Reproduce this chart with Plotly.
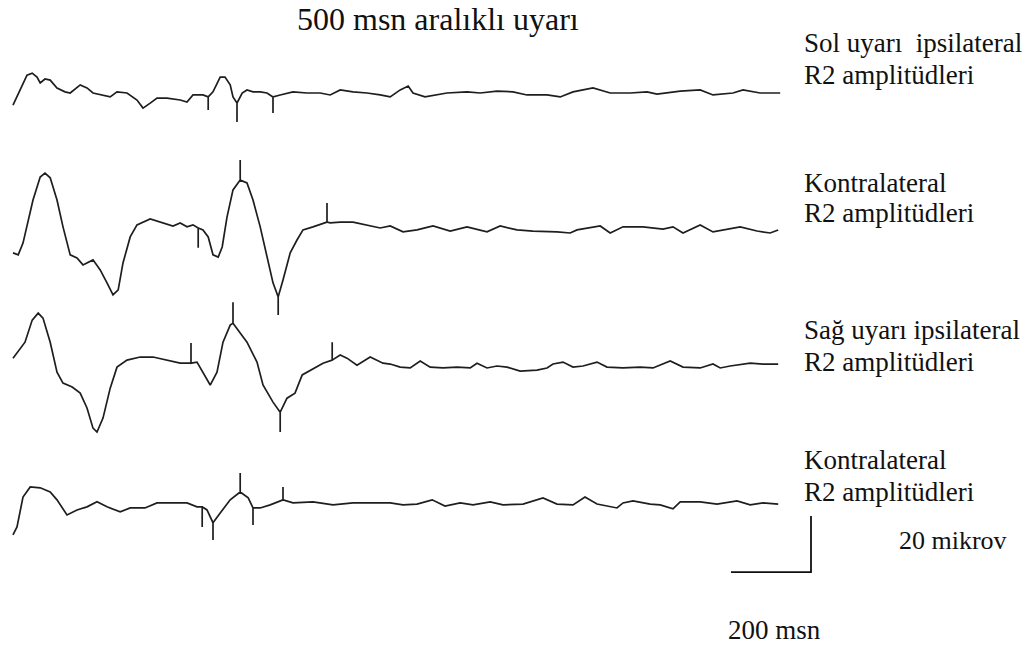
import plotly.graph_objects as go

# ---- Data: time (ms) and amplitude (µV) for each recording ----
t1 = [0, 18, 35, 48, 60, 68, 80, 93, 110, 130, 143, 168, 185, 200, 218, 243, 260, 285, 310, 325,
      343, 360, 385, 418, 435, 450, 475, 488, 488, 488, 500, 518, 530, 543, 550, 560, 560, 560,
      573, 585, 600, 618, 635, 650, 650, 650, 668, 700, 735, 768, 793, 818, 850, 885, 918, 943,
      968, 988, 1000, 1030, 1085, 1135, 1168, 1210, 1250, 1285, 1335, 1368, 1400, 1450, 1493,
      1543, 1585, 1610, 1668, 1718, 1750, 1800, 1825, 1868, 1918]
a1 = [-4.3, 1.1, 6.4, 7.1, 5.7, 3.6, 5.0, 4.6, 1.8, 0.4, 0.0, 2.9, 1.8, 0.0, -0.7, -1.4, 0.4, 0.0, -2.5, -5.4,
      -3.6, -1.8, -1.8, -2.5, -3.2, -0.7, -0.7, -1.4, -6.1, -1.4, 0.4, 5.7, 5.7, 2.9, -1.4, -3.6, -10.4, -3.6,
      0.0, 1.1, 0.4, 0.4, 0.0, -1.4, -7.1, -1.4, -0.7, 0.4, 0.0, 0.0, -0.7, 1.1, 0.4, 0.0, -0.7, -1.4,
      1.1, 2.5, 0.0, -1.4, 0.0, 0.4, 0.0, 0.7, 0.4, -0.7, -0.7, -1.4, 0.4, 1.8, 0.0,
      0.0, 0.4, -0.4, 0.7, 1.1, -0.7, 0.0, 1.1, 0.0, 0.0]

t2 = [0, 13, 25, 50, 68, 80, 93, 110, 125, 143, 160, 175, 200, 218, 235, 250, 263, 275, 293, 310,
      343, 375, 400, 418, 435, 450, 463, 463, 463, 475, 488, 500, 513, 523, 535, 550, 568, 568, 568,
      585, 600, 618, 635, 650, 663, 663, 663, 675, 693, 710, 725, 750, 785, 785, 785, 793, 818, 850,
      885, 918, 943, 975, 1010, 1050, 1093, 1135, 1185, 1218, 1260, 1300, 1360, 1393, 1410, 1468,
      1493, 1525, 1575, 1625, 1650, 1675, 1718, 1750, 1818, 1860, 1893, 1913]
a2 = [-8.9, -9.6, -5.4, 10.0, 18.2, 19.6, 17.9, 10.0, 0.4, -9.6, -10.7, -13.2, -11.4, -15.0, -19.6, -23.9, -22.1, -12.5, -3.2, 1.1,
      3.2, 1.8, 0.7, 1.8, 0.4, 1.1, 0.0, -7.1, 0.0, -0.7, -3.2, -9.6, -10.4, -6.8, 3.9, 13.6, 17.1, 24.3, 17.1,
      16.1, 10.0, 0.4, -10.4, -19.6, -24.6, -31.1, -24.6, -18.6, -8.9, -4.3, -0.7, 0.4, 2.1, 8.9, 2.1, 1.8, 2.1, 2.1,
      1.1, 0.0, 0.7, -1.4, -0.7, 0.7, -1.1, 0.4, -1.4, 0.7, -0.7, -1.1, -1.4, -1.8, -0.7, 0.7,
      -1.8, 0.4, 0.4, -0.4, 0.4, -1.8, 1.1, -1.4, 0.4, -1.1, -1.8, -0.7]

t3 = [0, 30, 48, 63, 75, 93, 110, 125, 148, 168, 185, 200, 210, 225, 243, 260, 285, 318, 350, 385,
      418, 445, 445, 445, 460, 475, 493, 510, 525, 543, 550, 550, 550, 585, 610, 625, 650, 668, 668, 668,
      685, 705, 723, 743, 775, 798, 798, 798, 818, 835, 860, 893, 925, 943, 968, 993, 1018, 1043,
      1075, 1110, 1143, 1160, 1185, 1210, 1235, 1268, 1310, 1335, 1350, 1375, 1400, 1425, 1460, 1485,
      1525, 1568, 1600, 1643, 1675, 1718, 1750, 1768, 1793, 1843, 1875, 1913]
a3 = [1.4, 7.1, 15.0, 17.5, 15.7, 7.1, -3.6, -7.5, -8.9, -11.1, -16.4, -23.6, -25.0, -20.0, -9.3, -1.8, 0.7, 1.8, 1.8, 0.7,
      -0.4, -0.4, 6.8, -0.4, 0.0, -3.9, -8.2, -3.6, 7.1, 13.2, 13.9, 21.4, 13.9, 7.1, 0.0, -8.2, -14.3, -17.9, -25.0, -17.9,
      -12.9, -11.1, -4.6, -2.9, -0.4, 0.7, 7.1, 0.7, 2.5, 1.4, -1.1, 1.8, -0.4, -0.7, -1.8, -2.1, 0.4, -1.8,
      -2.1, -1.8, -2.1, -0.4, -2.1, -1.4, -1.8, -3.2, -2.9, -2.1, -0.7, 0.0, -1.8, -1.4, 0.0, -1.8,
      -2.1, -1.8, -2.1, 0.4, -1.8, -2.1, -0.7, -2.1, -1.4, -0.4, -0.7, -0.7]

t4 = [0, 10, 25, 43, 68, 93, 110, 135, 160, 185, 210, 235, 268, 293, 330, 360, 400, 435, 460, 473,
      473, 473, 485, 500, 500, 500, 518, 543, 568, 568, 568, 588, 600, 600, 600, 618, 643, 675, 675, 675,
      700, 750, 800, 850, 900, 943, 975, 1010, 1048, 1080, 1118, 1150, 1193, 1225, 1275, 1325, 1360,
      1400, 1430, 1460, 1510, 1525, 1550, 1593, 1618, 1650, 1668, 1718, 1760, 1810, 1843, 1875, 1913]
a4 = [-11.4, -8.6, 2.1, 5.7, 5.4, 3.9, 1.1, -4.3, -2.5, -1.4, 0.4, -1.4, -3.2, -1.8, -1.8, 0.0, 0.0, 0.0, -1.4, -1.4,
      -8.6, -1.4, -2.5, -7.1, -13.2, -7.1, -3.6, 1.1, 3.9, 10.7, 3.9, 1.8, -1.8, -7.9, -1.8, -1.8, -0.7, 1.1, 5.7, 1.1,
      0.0, 0.4, -0.7, 0.0, 0.0, 0.0, -0.7, -0.4, 1.1, -1.1, 0.0, -0.7, 0.4, -0.7, -0.4, 1.8, -0.4,
      -0.7, 2.1, -0.4, -1.8, 0.0, 0.7, -0.4, -0.7, -2.1, 0.4, 0.4, -0.4, 0.7, -0.7, 0.0, -0.4]

times = [t1, t2, t3, t4]
amps = [a1, a2, a3, a4]
offsets = [197.5, 149.3, 101.4, 51.1]   # vertical stacking of the traces (µV)

label_lines = [["Sol uyarı  ipsilateral", "R2 amplitüdleri"],
               ["Kontralateral", "R2 amplitüdleri"],
               ["Sağ uyarı ipsilateral", "R2 amplitüdleri"],
               ["Kontralateral", "R2 amplitüdleri"]]
title_text = "500 msn aralıklı uyarı"
scale_t = 200     # ms
scale_a = 20      # µV
scale_t_label = "200 msn"
scale_a_label = "20 mikrov"

W, H = 1025, 646
fig = go.Figure()
for t, a, off in zip(times, amps, offsets):
    fig.add_trace(go.Scatter(x=t, y=[v + off for v in a], mode="lines",
                             line=dict(color="#1e1e1e", width=1.7),
                             showlegend=False, hoverinfo="skip"))

# scale bar (corner at t=1995 ms, y=26.4 µV)
cx, cy = 1995, 26.4
fig.add_trace(go.Scatter(x=[cx - scale_t, cx, cx], y=[cy, cy, cy + scale_a], mode="lines",
                         line=dict(color="#111", width=1.8), showlegend=False, hoverinfo="skip"))

font = "Liberation Serif, Times New Roman, serif"
ann = []
ann.append(dict(text=title_text, x=438 / W, y=1 - 19 / H, xref="paper", yref="paper",
                xanchor="center", yanchor="middle", showarrow=False,
                font=dict(family=font, size=32, color="#111")))
label_y = [(43, 75), (183, 213), (330, 362), (460, 492)]
for lines, ys in zip(label_lines, label_y):
    for txt, yy in zip(lines, ys):
        ann.append(dict(text=txt, x=802 / W, y=1 - yy / H, xref="paper", yref="paper",
                        xanchor="left", yanchor="middle", showarrow=False,
                        font=dict(family=font, size=27, color="#111")))
ann.append(dict(text=scale_a_label, x=897 / W, y=1 - 540 / H, xref="paper", yref="paper",
                xanchor="left", yanchor="middle", showarrow=False,
                font=dict(family=font, size=26, color="#111")))
ann.append(dict(text=scale_t_label, x=726 / W, y=1 - 630 / H, xref="paper", yref="paper",
                xanchor="left", yanchor="middle", showarrow=False,
                font=dict(family=font, size=27, color="#111")))

fig.update_layout(
    width=W, height=H, autosize=False,
    margin=dict(l=0, r=0, t=0, b=0),
    paper_bgcolor="white", plot_bgcolor="white",
    xaxis=dict(range=[-32.5, 2530], visible=False, fixedrange=True),
    yaxis=dict(range=[0, H / 2.8], visible=False, fixedrange=True),
    annotations=ann,
)
fig.write_html("out.html")
